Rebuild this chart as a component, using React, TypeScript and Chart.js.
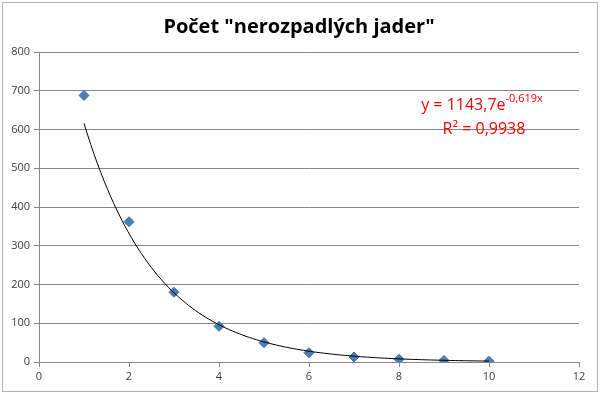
import React, { useEffect, useRef } from "react";
import { Chart, registerables } from "chart.js";

Chart.register(...registerables);

const TITLE = 'Počet "nerozpadlých jader"';
const xValues = [1, 2, 3, 4, 5, 6, 7, 8, 9, 10];
const yValues = [688, 362, 180, 92, 50, 24, 13, 7, 4, 2];
const TREND_A = 1143.7;
const TREND_B = -0.619;
const EQ_MAIN = "y = 1143,7e";
const EQ_EXP = "-0,619x";
const R2_TEXT = "R² = 0,9938";

const FONT = "'Open Sans', 'Noto Sans', sans-serif";

export default function App() {
  const ref = useRef<HTMLCanvasElement | null>(null);
  useEffect(() => {
    document.body.style.margin = "0";
    const canvas = ref.current!;
    const decor = {
      id: "decor",
      beforeDraw(chart: any) {
        const ctx = chart.ctx;
        ctx.save();
        ctx.fillStyle = "#ffffff";
        ctx.fillRect(0, 0, chart.width, chart.height);
        ctx.restore();
      },
      afterDatasetsDraw(chart: any) {
        const ctx = chart.ctx;
        const xs = chart.scales.x;
        const ys = chart.scales.y;
        ctx.save();
        ctx.beginPath();
        ctx.strokeStyle = "#000000";
        ctx.lineWidth = 1;
        const x0 = xValues[0];
        const x1 = xValues[xValues.length - 1];
        const n = 120;
        for (let i = 0; i <= n; i++) {
          const xv = x0 + ((x1 - x0) * i) / n;
          const yv = TREND_A * Math.exp(TREND_B * xv);
          const px = xs.getPixelForValue(xv);
          const py = ys.getPixelForValue(yv);
          if (i === 0) ctx.moveTo(px, py);
          else ctx.lineTo(px, py);
        }
        ctx.stroke();
        ctx.restore();
      },
      afterDraw(chart: any) {
        const ctx = chart.ctx;
        ctx.save();
        ctx.fillStyle = "#000000";
        ctx.font = `bold 20px ${FONT}`;
        ctx.textAlign = "center";
        ctx.textBaseline = "middle";
        ctx.fillText(TITLE, 299, 27);
        ctx.fillStyle = "#ff0000";
        ctx.font = `16px ${FONT}`;
        ctx.textAlign = "left";
        ctx.textBaseline = "alphabetic";
        const mainW = ctx.measureText(EQ_MAIN).width;
        ctx.font = `11px ${FONT}`;
        const expW = ctx.measureText(EQ_EXP).width;
        const total = mainW + expW;
        const startX = 482 - total / 2;
        ctx.font = `16px ${FONT}`;
        ctx.fillText(EQ_MAIN, startX, 110);
        ctx.font = `11px ${FONT}`;
        ctx.fillText(EQ_EXP, startX + mainW, 102);
        ctx.font = `16px ${FONT}`;
        ctx.textAlign = "center";
        ctx.fillText(R2_TEXT, 484, 134);
        ctx.strokeStyle = "#b4b4b4";
        ctx.lineWidth = 1;
        ctx.strokeRect(2.5, 2.5, chart.width - 5, chart.height - 5);
        ctx.restore();
      },
    };
    const chart = new Chart(canvas, {
      type: "scatter",
      data: {
        datasets: [
          {
            label: "data",
            data: xValues.map((x, i) => ({ x, y: yValues[i] })),
            pointStyle: "rectRot",
            pointRadius: 5,
            pointBackgroundColor: "#4a7ebb",
            pointBorderColor: "#3e6fa8",
            pointBorderWidth: 1,
          },
        ],
      },
      options: {
        animation: false,
        responsive: false,
        maintainAspectRatio: false,
        layout: { padding: { top: 52, right: 21, left: 0, bottom: 0 } },
        plugins: {
          legend: { display: false },
          tooltip: { enabled: false },
          title: { display: false },
        },
        scales: {
          x: {
            type: "linear",
            min: 0,
            max: 12,
            ticks: {
              stepSize: 2,
              color: "#404040",
              font: { family: FONT, size: 11 },
              padding: 3,
            },
            grid: {
              drawOnChartArea: false,
              drawTicks: true,
              tickLength: 5,
              color: "#868686",
            },
            border: { color: "#868686" },
            afterFit: (s: any) => {
              s.height = 32;
            },
          },
          y: {
            type: "linear",
            min: 0,
            max: 800,
            ticks: {
              stepSize: 100,
              color: "#404040",
              font: { family: FONT, size: 11 },
              padding: 4,
            },
            grid: {
              color: "#868686",
              tickLength: 5,
            },
            border: { color: "#868686" },
            afterFit: (s: any) => {
              s.width = 39;
            },
          },
        },
      },
      plugins: [decor],
    });
    return () => chart.destroy();
  }, []);
  return <canvas ref={ref} width={600} height={394} style={{ display: "block" }} />;
}
